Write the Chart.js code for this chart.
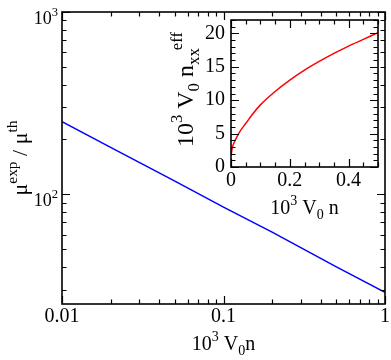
<!DOCTYPE html>
<html>
<head>
<meta charset="utf-8">
<script src="https://cdn.jsdelivr.net/npm/chart.js@4/dist/chart.umd.min.js"></script>
<style>
  html, body { margin: 0; padding: 0; background: #fff; }
  #wrap { position: relative; width: 391px; height: 360px; }
  #main { position: absolute; left: 0; top: 0; }
  #inset { position: absolute; left: 170px; top: 0; }
</style>
</head>
<body>
<div id="wrap">
  <canvas id="main" width="391" height="360"></canvas>
  <canvas id="inset" width="221" height="230"></canvas>
</div>
<script>
// ---- main plot data (log-log) ----
const mainX = [0.01, 0.02, 0.05, 0.1, 0.2, 0.5, 1];
const mainY = [250, 181, 118, 85, 62, 40, 29];
const mainXTicks = [0.01, 0.1, 1];
const mainXTickLabels = ['0.01', '0.1', '1'];
const mainYTicks = [100, 1000];
const mainYTickExps = ['2', '3'];

// ---- inset data (linear) ----
const insetX = [0, 0.005, 0.01, 0.02, 0.03, 0.05, 0.075, 0.1, 0.15, 0.2, 0.25, 0.3, 0.35, 0.4, 0.45, 0.5];
const insetY = [1.7, 3.0, 3.6, 4.5, 5.3, 6.5, 8.0, 9.3, 11.3, 13.0, 14.5, 15.8, 17.0, 18.1, 19.1, 20.1];
const insetXTicks = [0, 0.2, 0.4];
const insetXTickLabels = ['0', '0.2', '0.4'];
const insetYTicks = [0, 5, 10, 15, 20];
const insetYTickLabels = ['0', '5', '10', '15', '20'];

const FONT = '"Liberation Serif", "Times New Roman", serif';

function partFont(p, size) {
  return (p.s ? size * 0.7 : size) + 'px ' + FONT;
}
function richWidth(ctx, parts, size) {
  let w = 0;
  for (const p of parts) { ctx.font = partFont(p, size); w += ctx.measureText(p.t).width + (p.dx || 0); }
  return w;
}
function drawRich(ctx, parts, x, y, size, align) {
  const w = richWidth(ctx, parts, size);
  let cx = align === 'center' ? x - w / 2 : (align === 'right' ? x - w : x);
  ctx.textAlign = 'left';
  ctx.textBaseline = 'alphabetic';
  ctx.fillStyle = '#000';
  for (const p of parts) {
    ctx.font = partFont(p, size);
    const dy = p.s === 'sup' ? -size * 0.45 : (p.s === 'sub' ? size * 0.25 : 0);
    cx += (p.dx || 0);
    ctx.fillText(p.t, cx, y + dy);
    cx += ctx.measureText(p.t).width;
  }
}

function drawTicks(chart, xMajor, xMinor, yMajor, yMinor, majLen, minLen) {
  const ctx = chart.ctx, a = chart.chartArea;
  const xs = chart.scales.x, ys = chart.scales.y;
  ctx.save();
  ctx.strokeStyle = '#000';
  ctx.lineWidth = 1.2;
  ctx.beginPath();
  const xt = (vals, len) => vals.forEach(v => {
    const px = Math.round(xs.getPixelForValue(v)) + 0.5;
    ctx.moveTo(px, a.bottom); ctx.lineTo(px, a.bottom - len);
    ctx.moveTo(px, a.top); ctx.lineTo(px, a.top + len);
  });
  const yt = (vals, len) => vals.forEach(v => {
    const py = Math.round(ys.getPixelForValue(v)) + 0.5;
    ctx.moveTo(a.left, py); ctx.lineTo(a.left + len, py);
    ctx.moveTo(a.right, py); ctx.lineTo(a.right - len, py);
  });
  xt(xMajor, majLen); xt(xMinor, minLen);
  yt(yMajor, majLen); yt(yMinor, minLen);
  ctx.stroke();
  ctx.lineWidth = 1.6;
  ctx.strokeRect(a.left, a.top, a.right - a.left, a.bottom - a.top);
  ctx.restore();
}

// minor tick positions (axis structure)
const mainXMinor = [], mainYMinor = [], insetXMinor = [], insetYMinor = [];
[0.01, 0.1].forEach(d => { for (let k = 2; k <= 9; k++) mainXMinor.push(d * k); });
[3, 4, 5, 6, 7, 8, 9].forEach(k => mainYMinor.push(k * 10));
[2, 3, 4, 5, 6, 7, 8, 9].forEach(k => mainYMinor.push(k * 100));
[0.05, 0.1, 0.15, 0.25, 0.3, 0.35, 0.45, 0.5].forEach(v => insetXMinor.push(v));
for (let v = 1; v <= 22; v++) if (v % 5) insetYMinor.push(v);

const mainPlugin = {
  id: 'mainDeco',
  afterDatasetsDraw(chart) {
    const ctx = chart.ctx, a = chart.chartArea, ys = chart.scales.y;
    drawTicks(chart, mainXTicks, mainXMinor, mainYTicks, mainYMinor, 8, 4.5);
    mainYTicks.forEach((v, i) => {
      const py = ys.getPixelForValue(v);
      drawRich(ctx, [{t: '10'}, {t: mainYTickExps[i], s: 'sup'}], 58, py + 12, 18, 'right');
    });
    drawRich(ctx, [{t: '10'}, {t: '3', s: 'sup'}, {t: ' V'}, {t: '0', s: 'sub'}, {t: 'n'}],
      (a.left + a.right) / 2, 350, 20, 'center');
    ctx.save();
    ctx.translate(27, (a.top + a.bottom) / 2);
    ctx.rotate(-Math.PI / 2);
    drawRich(ctx, [{t: 'μ'}, {t: 'exp', s: 'sup'}, {t: ' / μ'}, {t: 'th', s: 'sup'}], 0, 0, 22, 'center');
    ctx.restore();
  }
};

new Chart(document.getElementById('main'), {
  type: 'line',
  data: {
    datasets: [{
      data: mainX.map((x, i) => ({x: x, y: mainY[i]})),
      borderColor: '#0000ff', borderWidth: 1.5, pointRadius: 0, fill: false, tension: 0
    }]
  },
  options: {
    responsive: false, animation: false, devicePixelRatio: 1,
    layout: {padding: {top: 12, right: 6, left: 0, bottom: 0}},
    plugins: {legend: {display: false}, tooltip: {enabled: false}},
    scales: {
      x: {
        type: 'logarithmic', min: 0.01, max: 1,
        grid: {display: false, drawTicks: false}, border: {display: false},
        afterBuildTicks: s => { s.ticks = mainXTicks.map(v => ({value: v, major: true})); },
        afterFit: s => { s.height = 56; },
        ticks: {
          color: '#000', font: {family: FONT, size: 20}, padding: 1,
          maxRotation: 0, autoSkip: false,
          callback: (v) => { const i = mainXTicks.indexOf(v); return i >= 0 ? mainXTickLabels[i] : ''; }
        }
      },
      y: {
        type: 'logarithmic', min: 25, max: 1000,
        grid: {display: false, drawTicks: false}, border: {display: false},
        afterBuildTicks: s => { s.ticks = mainYTicks.map(v => ({value: v})); },
        afterFit: s => { s.width = 62; },
        ticks: {display: false}
      }
    }
  },
  plugins: [mainPlugin]
});

const insetPlugin = {
  id: 'insetDeco',
  beforeDatasetsDraw(chart) {
    const ctx = chart.ctx, a = chart.chartArea;
    ctx.save(); ctx.fillStyle = '#fff';
    ctx.fillRect(a.left, a.top, a.right - a.left, a.bottom - a.top);
    ctx.restore();
  },
  afterDatasetsDraw(chart) {
    const ctx = chart.ctx, a = chart.chartArea;
    drawTicks(chart, insetXTicks, insetXMinor, insetYTicks, insetYMinor, 8, 4.5);
    drawRich(ctx, [{t: '10'}, {t: '3', s: 'sup'}, {t: ' V'}, {t: '0', s: 'sub'}, {t: ' n'}],
      (a.left + a.right) / 2, 214, 20, 'center');
    ctx.save();
    ctx.translate(23, (a.top + a.bottom) / 2 - 4);
    ctx.rotate(-Math.PI / 2);
    drawRich(ctx, [{t: '10'}, {t: '3', s: 'sup'}, {t: ' V'}, {t: '0', s: 'sub'}, {t: ' n'},
      {t: 'xx', s: 'sub'}, {t: 'eff', s: 'sup', dx: -2}], 0, 0, 24, 'center');
    ctx.restore();
  }
};

new Chart(document.getElementById('inset'), {
  type: 'line',
  data: {
    datasets: [{
      data: insetX.map((x, i) => ({x: x, y: insetY[i]})),
      borderColor: '#ff0000', borderWidth: 1.5, pointRadius: 0, fill: false,
      cubicInterpolationMode: 'monotone'
    }]
  },
  options: {
    responsive: false, animation: false, devicePixelRatio: 1,
    layout: {padding: {top: 20, right: 13, left: 0, bottom: 0}},
    plugins: {legend: {display: false}, tooltip: {enabled: false}},
    scales: {
      x: {
        type: 'linear', min: 0, max: 0.5,
        grid: {display: false, drawTicks: false}, border: {display: false},
        afterBuildTicks: s => { s.ticks = insetXTicks.map(v => ({value: v})); },
        afterFit: s => { s.height = 63; },
        ticks: {
          color: '#000', font: {family: FONT, size: 20}, padding: 2,
          maxRotation: 0, autoSkip: false,
          callback: (v) => { const i = insetXTicks.indexOf(v); return i >= 0 ? insetXTickLabels[i] : ''; }
        }
      },
      y: {
        type: 'linear', min: 0, max: 22,
        grid: {display: false, drawTicks: false}, border: {display: false},
        afterBuildTicks: s => { s.ticks = insetYTicks.map(v => ({value: v})); },
        afterFit: s => { s.width = 61; },
        ticks: {
          color: '#000', font: {family: FONT, size: 20}, padding: 6, autoSkip: false,
          callback: (v) => { const i = insetYTicks.indexOf(v); return i >= 0 ? insetYTickLabels[i] : ''; }
        }
      }
    }
  },
  plugins: [insetPlugin]
});
</script>
</body>
</html>
